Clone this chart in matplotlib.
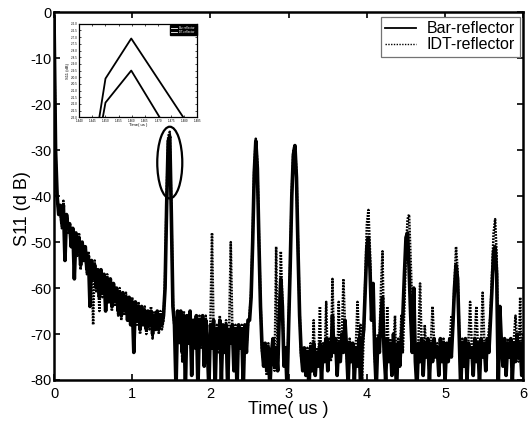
import numpy as np
import matplotlib
matplotlib.use("Agg")
import matplotlib.pyplot as plt
from matplotlib.patches import Ellipse
from matplotlib.lines import Line2D

plt.rcParams['font.family'] = ['Liberation Sans', 'DejaVu Sans']
plt.rcParams['axes.unicode_minus'] = False

# ---- data ----
t_start, t_end, n_pts = 0.0, 6.0, 301

bar_reflector = [
    -1, -30, -40, -44, -42, -46, -42, -54, -44, -47,
    -46, -51, -47, -58, -48, -52, -49, -55, -50, -54,
    -51, -56, -53, -64, -54, -58, -55, -60, -56, -62,
    -56, -61, -57, -65, -58, -63, -58, -64, -59, -63,
    -60, -65, -61, -66, -61, -65, -62, -67, -62, -68,
    -63, -74, -63, -67, -64, -69, -64, -68, -65, -69,
    -65, -68, -65, -70, -66, -69, -65, -69, -66, -68,
    -66, -60, -42, -28, -27, -44, -64, -68, -82, -65,
    -71, -65, -74, -66, -82, -66, -72, -65, -79, -67,
    -73, -66, -82, -67, -72, -66, -77, -67, -73, -82,
    -68, -73, -67, -82, -69, -73, -67, -80, -68, -74,
    -68, -82, -69, -72, -68, -78, -69, -82, -68, -73,
    -69, -82, -68, -74, -67, -67, -62, -50, -35, -28,
    -34, -50, -64, -73, -77, -72, -78, -73, -82, -74,
    -71, -77, -73, -78, -66, -58, -64, -77, -73, -82,
    -68, -55, -40, -31, -29, -36, -52, -66, -74, -78,
    -73, -79, -74, -82, -73, -78, -72, -79, -74, -77,
    -72, -80, -73, -76, -71, -78, -72, -75, -66, -74,
    -71, -79, -72, -76, -70, -74, -67, -73, -81, -72,
    -76, -72, -80, -73, -77, -71, -82, -72, -69, -60,
    -51, -49, -56, -67, -59, -74, -82, -71, -74, -66,
    -62, -74, -80, -71, -76, -72, -79, -70, -75, -82,
    -72, -77, -71, -66, -57, -49, -48, -56, -66, -74,
    -60, -76, -82, -72, -76, -71, -79, -72, -75, -71,
    -80, -72, -76, -71, -75, -73, -79, -71, -76, -72,
    -80, -72, -76, -71, -75, -68, -60, -55, -58, -70,
    -82, -72, -77, -71, -80, -72, -75, -73, -79, -71,
    -76, -72, -81, -71, -75, -72, -78, -71, -74, -67,
    -60, -52, -51, -57, -82, -64, -72, -77, -71, -79,
    -72, -75, -71, -80, -72, -76, -70, -75, -72, -79,
    -71,
]

idt_reflector = [
    -1, -31, -41, -43, -43, -47, -41, -52, -45, -48,
    -47, -50, -48, -56, -49, -53, -48, -56, -51, -53,
    -52, -57, -52, -62, -55, -68, -54, -61, -57, -65,
    -57, -62, -58, -64, -57, -62, -59, -65, -60, -64,
    -61, -66, -60, -67, -62, -66, -61, -66, -63, -67,
    -62, -71, -64, -68, -63, -70, -65, -67, -64, -70,
    -66, -69, -64, -71, -65, -68, -66, -70, -65, -69,
    -67, -58, -40, -27, -26, -43, -63, -69, -74, -66,
    -72, -66, -76, -65, -78, -67, -71, -66, -77, -68,
    -72, -67, -79, -66, -73, -67, -75, -66, -74, -78,
    -67, -48, -69, -80, -68, -74, -66, -78, -69, -73,
    -67, -80, -68, -50, -69, -76, -68, -80, -69, -72,
    -68, -80, -69, -73, -68, -66, -61, -49, -34, -27.5,
    -33, -49, -63, -74, -76, -73, -79, -72, -80, -75,
    -72, -78, -51, -77, -65, -52, -63, -76, -74, -80,
    -67, -54, -39, -30, -29, -35, -51, -65, -75, -77,
    -74, -78, -73, -80, -72, -77, -67, -78, -73, -76,
    -64, -79, -72, -75, -63, -77, -71, -76, -58, -73,
    -72, -78, -63, -75, -71, -58, -68, -74, -80, -71,
    -75, -73, -79, -72, -63, -71, -68, -80, -70, -58,
    -46, -43, -52, -65, -60, -75, -80, -70, -72, -60,
    -52, -73, -79, -64, -75, -71, -78, -72, -66, -80,
    -71, -76, -66, -74, -64, -52, -45, -44, -54, -64,
    -62, -75, -80, -71, -59, -72, -78, -68, -74, -72,
    -79, -71, -64, -72, -74, -72, -78, -72, -75, -71,
    -79, -73, -75, -72, -66, -67, -59, -51, -56, -69,
    -80, -71, -76, -72, -78, -71, -63, -72, -78, -70,
    -64, -73, -79, -72, -61, -71, -77, -73, -69, -66,
    -57, -48, -45, -53, -80, -65, -73, -76, -72, -78,
    -71, -74, -72, -79, -71, -66, -71, -76, -62, -78,
    -70,
]

# inset (zoom on the first echo)
inset_bar_t = [1.4488, 1.4500, 1.4598, 1.4706]
inset_bar_v = [-33.2, -31.9, -29.5, -33.0]
inset_idt_t = [1.4475, 1.4500, 1.4598, 1.4796]
inset_idt_v = [-33.2, -30.1, -27.1, -33.0]

xticks = [0, 1, 2, 3, 4, 5, 6]
yticks = [0, -10, -20, -30, -40, -50, -60, -70, -80]
legend_labels = ['Bar-reflector', 'IDT-reflector']

# ---- figure ----
t = np.linspace(t_start, t_end, n_pts)
fig = plt.figure(figsize=(5.28, 4.25), dpi=100)
ax = fig.add_axes([0.1023, 0.1059, 0.8888, 0.8652])

dotted = (0, (0.7, 0.5))
ax.plot(t, bar_reflector, color='black', lw=2.6, label=legend_labels[0])
ax.plot(t, idt_reflector, color='black', lw=1.8, linestyle=dotted,
        label=legend_labels[1])

ax.set_xlim(0, 6)
ax.set_ylim(-80, 0)
ax.set_xticks(xticks)
ax.set_yticks(yticks)
ax.set_xticklabels([str(v) for v in xticks])
ax.set_yticklabels([str(v) for v in yticks])
ax.tick_params(direction='in', top=True, right=True, length=4, width=1.2,
               labelsize=10.5, colors='black')
ax.tick_params(axis='x', pad=5)
ax.tick_params(axis='y', pad=2)
for s in ax.spines.values():
    s.set_linewidth(1.8)

ax.set_xlabel('Time( us )', fontsize=13)
ax.set_ylabel('S11 (d B)', fontsize=13)
ax.xaxis.set_label_coords(0.5, -0.058)
ax.yaxis.set_label_coords(-0.05, 0.466)

leg = ax.legend(handles=[Line2D([0], [0], color='black', lw=1.3),
                         Line2D([0], [0], color='black', lw=1.0, linestyle=(0, (1, 1)))],
                labels=legend_labels,
                loc='upper right', bbox_to_anchor=(0.993, 0.988),
                borderaxespad=0, fontsize=11.5, handlelength=1.9,
                handletextpad=0.7, labelspacing=0.05, borderpad=0.3,
                fancybox=False, framealpha=1, edgecolor='0.45')
leg.get_frame().set_linewidth(0.9)

ax.add_patch(Ellipse((1.48, -32.7), 0.32, 15.6, fill=False,
                     edgecolor='black', lw=1.6))

# ---- inset ----
ins = fig.add_axes([0.150, 0.724, 0.224, 0.220])
ins.plot(inset_idt_t, inset_idt_v, color='black', lw=1.3)
ins.plot(inset_bar_t, inset_bar_v, color='black', lw=1.3)
ins.set_xlim(1.44, 1.485)
ins.set_ylim(-33, -26)
ins.set_xticks(np.arange(1.44, 1.4851, 0.005))
ins.set_yticks(np.arange(-33, -25.99, 0.5))
ins.tick_params(direction='in', top=True, right=True, length=1.5, width=0.5,
                labelsize=2.2, pad=1)
for s in ins.spines.values():
    s.set_linewidth(0.9)
ins.set_xlabel('Time( us )', fontsize=3, labelpad=0.5)
ins.set_ylabel('S11 (dB)', fontsize=3, labelpad=0.5)
h = [Line2D([0], [0], color='white', lw=0.6), Line2D([0], [0], color='white', lw=0.6)]
il = ins.legend(h, legend_labels, loc='upper right', fontsize=2.2,
                facecolor='black', edgecolor='black', framealpha=1,
                fancybox=False, labelcolor='white', borderaxespad=0.3,
                handlelength=2, labelspacing=0.1, borderpad=0.3)

fig.savefig('out.png', dpi=100)
